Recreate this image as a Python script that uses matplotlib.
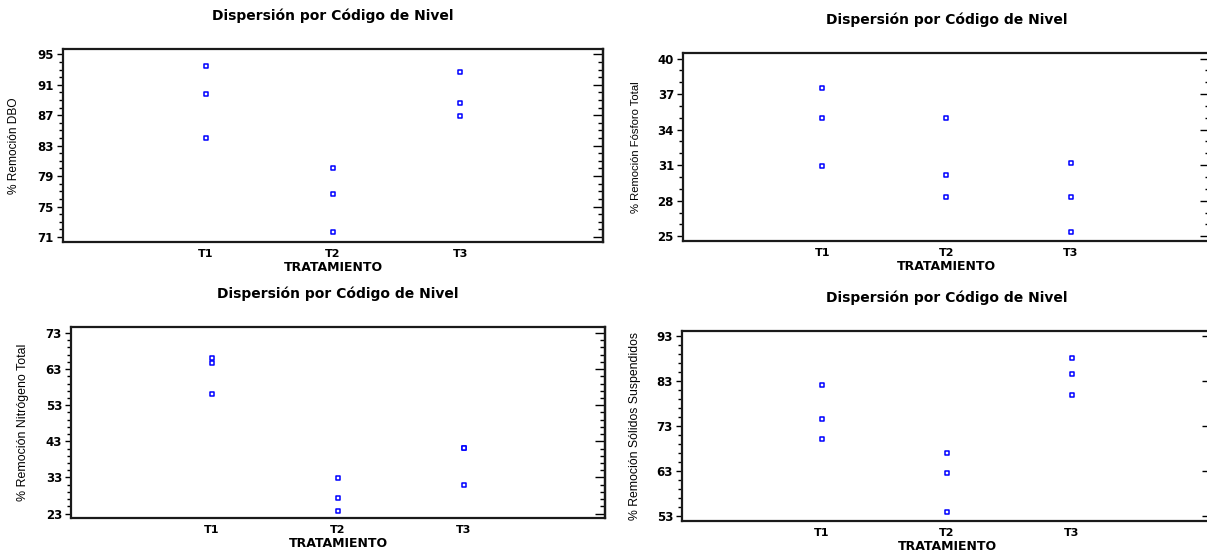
import numpy as np
import matplotlib
matplotlib.use("Agg")
import matplotlib.pyplot as plt
from matplotlib.ticker import FixedLocator
from matplotlib.path import Path

# ---------------- data ----------------
categories = ["T1", "T2", "T3"]
cat_pos = [1, 2, 3]

dbo_t1 = [93.5, 89.8, 84.0]
dbo_t2 = [80.0, 76.6, 71.6]
dbo_t3 = [92.7, 88.6, 86.9]

fosforo_t1 = [37.55, 34.95, 30.9]
fosforo_t2 = [35.0, 30.15, 28.35]
fosforo_t3 = [31.2, 28.35, 25.4]

nitrogeno_t1 = [66.2, 64.7, 56.0]
nitrogeno_t2 = [32.9, 27.4, 23.6]
nitrogeno_t3 = [41.25, 41.1, 30.8]

solidos_t1 = [82.2, 74.5, 70.0]
solidos_t2 = [67.0, 62.4, 53.8]
solidos_t3 = [88.2, 84.6, 79.8]

title_text = "Dispersión por Código de Nivel"
xlabel_text = "TRATAMIENTO"
ylabels = ["% Remoción DBO", "% Remoción Fósforo Total",
           "% Remoción Nitrógeno Total", "% Remoción Sólidos Suspendidos"]

# ---------------- figure ----------------
W, H = 1207, 553
fig = plt.figure(figsize=(W / 100, H / 100), dpi=100)

BLUE = "#0000FF"
SPINE = "#1a1a1a"
BOLD = dict(fontfamily="DejaVu Sans", fontweight="bold")
rect_marker = Path([(-1.5, -1), (1.5, -1), (1.5, 1), (-1.5, 1), (-1.5, -1)],
                   [Path.MOVETO, Path.LINETO, Path.LINETO, Path.LINETO, Path.CLOSEPOLY])

panels = [
    dict(rect=(63, 603, 49, 242), series=[dbo_t1, dbo_t2, dbo_t3],
         ylim=(70.34, 95.7), major=(71, 95, 4), minor=1, ysize=8.6, ylx=49),
    dict(rect=(683, 1210, 53, 241), series=[fosforo_t1, fosforo_t2, fosforo_t3],
         ylim=(24.6, 40.47), major=(25, 40, 3), minor=1, ysize=8.1, ylx=47),
    dict(rect=(71, 605, 327, 518), series=[nitrogeno_t1, nitrogeno_t2, nitrogeno_t3],
         ylim=(21.78, 74.66), major=(23, 73, 10), minor=2, ysize=8.9, ylx=48),
    dict(rect=(682, 1212, 331, 521), series=[solidos_t1, solidos_t2, solidos_t3],
         ylim=(51.8, 94.18), major=(53, 93, 10), minor=2, ysize=8.8, ylx=47),
]

for i, p in enumerate(panels):
    l, r, t, b = p["rect"]
    wpx, hpx = r - l, b - t
    ax = fig.add_axes([l / W, 1 - b / H, wpx / W, hpx / H])
    for pos, vals in zip(cat_pos, p["series"]):
        ax.plot([pos] * len(vals), vals, linestyle="none", marker=rect_marker,
                markersize=3.3, markerfacecolor="white", markeredgecolor=BLUE,
                markeredgewidth=1.1)
    ax.set_xlim(-0.12, 4.12)
    ax.set_ylim(*p["ylim"])
    ax.set_xticks(cat_pos)
    ax.set_xticklabels(categories, fontsize=8, **BOLD)
    a, z, s = p["major"]
    majors = np.arange(a, z + 0.001, s)
    minors = np.arange(a, z + 0.001, p["minor"])
    ax.yaxis.set_major_locator(FixedLocator(majors))
    ax.yaxis.set_minor_locator(FixedLocator(minors))
    ax.set_yticklabels([f"{v:g}" for v in majors], fontsize=8.5, **BOLD)
    ax.tick_params(axis="x", length=0, pad=5)
    ax.tick_params(axis="y", which="major", direction="out", length=4.5,
                   width=1.0, pad=2, left=True, right=False)
    ax.tick_params(axis="y", which="minor", direction="out", length=2.6,
                   width=1.0, left=True, right=False)
    sec = ax.secondary_yaxis("right")
    sec.yaxis.set_major_locator(FixedLocator(majors))
    sec.yaxis.set_minor_locator(FixedLocator(minors))
    sec.tick_params(axis="y", which="major", direction="in", length=7.5,
                    width=1.0, labelright=False)
    sec.tick_params(axis="y", which="minor", direction="in", length=3.8,
                    width=1.0, labelright=False)
    sec.spines["right"].set_linewidth(1.6)
    sec.spines["right"].set_color(SPINE)
    for sp in ax.spines.values():
        sp.set_linewidth(1.6)
        sp.set_color(SPINE)

    ax.set_title(title_text, fontsize=10, y=1 + 33 / hpx, va="center", pad=0,
                 **BOLD)
    ax.set_xlabel(xlabel_text, fontsize=9, va="top", **BOLD)
    ax.xaxis.set_label_coords(0.5, -19 / hpx)
    ax.set_ylabel(ylabels[i], family=["Liberation Sans", "DejaVu Sans"],
                  fontsize=p["ysize"], va="center")
    ax.yaxis.set_label_coords(-p["ylx"] / wpx, 0.5)

fig.savefig("out.png", dpi=100)
